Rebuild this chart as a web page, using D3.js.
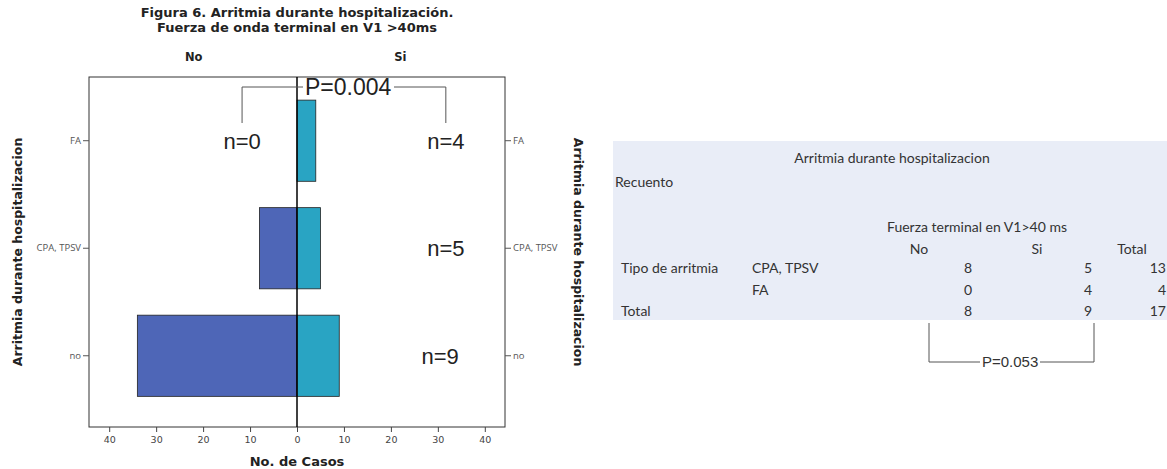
<!DOCTYPE html>
<html><head><meta charset="utf-8">
<script src="https://cdn.jsdelivr.net/npm/d3@7"></script>
<style>body{margin:0;background:#fff;} svg{display:block;}</style>
</head><body>
<svg id="c" width="1167" height="469"></svg>
<script>
// ---- data ----
const categories = ["FA", "CPA, TPSV", "no"];
const noValues = [0, 8, 34];
const siValues = [4, 5, 9];
const xTicks = [-40, -30, -20, -10, 0, 10, 20, 30, 40];
const nLabels = ["n=4", "n=5", "n=9"];
const nLabelLeft = "n=0";
const pChart = "P=0.004";
const pTable = "P=0.053";
const tableColHeads = ["No", "Si", "Total"];
const tableRowGroups = ["Tipo de arritmia", "", "Total"];
const tableRowLabels = ["CPA, TPSV", "FA", ""];
const tableNo = [8, 0, 8];
const tableSi = [5, 4, 9];
const tableTotal = [13, 4, 17];

const svg = d3.select("#c");
const L = 89, R = 505, T = 77, B = 427;
const x = d3.scaleLinear().domain([-44.3, 44.3]).range([L, R]);
const y = d3.scaleBand().domain(categories).range([T, B])
  .paddingInner(0.245).paddingOuter(0.25).align(0.43);

// titles
const sans = "'DejaVu Sans', Verdana, sans-serif";
svg.append("text").attr("x", 297).attr("y", 17).attr("text-anchor", "middle")
  .attr("font-family", sans).attr("font-weight", "bold").attr("font-size", 13).attr("fill", "#222")
  .text("Figura 6. Arritmia durante hospitalización.");
svg.append("text").attr("x", 297).attr("y", 32).attr("text-anchor", "middle")
  .attr("font-family", sans).attr("font-weight", "bold").attr("font-size", 13).attr("fill", "#222")
  .text("Fuerza de onda terminal en V1 >40ms");
svg.append("text").attr("x", x(-22)).attr("y", 61).attr("text-anchor", "middle")
  .attr("font-family", sans).attr("font-weight", "bold").attr("font-size", 11.5).attr("fill", "#222").text("No");
svg.append("text").attr("x", x(22)).attr("y", 61).attr("text-anchor", "middle")
  .attr("font-family", sans).attr("font-weight", "bold").attr("font-size", 11.5).attr("fill", "#222").text("Si");

// bars
const g = svg.append("g");
g.selectAll("rect.no").data(categories).join("rect").attr("class", "no")
  .attr("x", (d, i) => x(-noValues[i])).attr("width", (d, i) => x(0) - x(-noValues[i]))
  .attr("y", d => y(d)).attr("height", y.bandwidth())
  .attr("fill", "#4e66b7").attr("stroke", "#222").attr("stroke-width", 0.8)
  .attr("display", (d, i) => noValues[i] > 0 ? null : "none");
g.selectAll("rect.si").data(categories).join("rect").attr("class", "si")
  .attr("x", x(0)).attr("width", (d, i) => x(siValues[i]) - x(0))
  .attr("y", d => y(d)).attr("height", y.bandwidth())
  .attr("fill", "#29a4c3").attr("stroke", "#222").attr("stroke-width", 0.8);

// frame
svg.append("rect").attr("x", L).attr("y", T).attr("width", R - L).attr("height", B - T)
  .attr("fill", "none").attr("stroke", "#333").attr("stroke-width", 1);
svg.append("line").attr("x1", x(0)).attr("x2", x(0)).attr("y1", T).attr("y2", B)
  .attr("stroke", "#000").attr("stroke-width", 1.5);

// x axis
const xa = svg.append("g").attr("transform", `translate(0,${B})`)
  .call(d3.axisBottom(x).tickValues(xTicks).tickFormat(d => Math.abs(d)).tickSize(5).tickPadding(4));
xa.select(".domain").remove();
xa.selectAll("line").attr("stroke", "#444");
xa.selectAll("text").attr("font-family", sans).attr("font-size", 9.5).attr("fill", "#444");
svg.append("text").attr("x", 297).attr("y", 466).attr("text-anchor", "middle")
  .attr("font-family", sans).attr("font-weight", "bold").attr("font-size", 13).attr("fill", "#222")
  .text("No. de Casos");

// y axes
const ya = svg.append("g").attr("transform", `translate(${L},0)`)
  .call(d3.axisLeft(y).tickSize(6).tickPadding(2));
ya.select(".domain").remove();
const yb = svg.append("g").attr("transform", `translate(${R},0)`)
  .call(d3.axisRight(y).tickSize(6).tickPadding(2));
yb.select(".domain").remove();
[ya, yb].forEach(a => {
  a.selectAll("line").attr("stroke", "#555");
  a.selectAll("text").attr("font-family", "'Open Sans', sans-serif").attr("font-size", 9.5).attr("fill", "#555");
});
svg.append("text").attr("transform", `translate(22,${(T + B) / 2}) rotate(-90)`).attr("text-anchor", "middle")
  .attr("font-family", sans).attr("font-weight", "bold").attr("font-size", 12.5).attr("fill", "#222")
  .text("Arritmia durante hospitalizacion");
svg.append("text").attr("transform", `translate(574,${(T + B) / 2}) rotate(90)`).attr("text-anchor", "middle")
  .attr("font-family", sans).attr("font-weight", "bold").attr("font-size", 12.5).attr("fill", "#222")
  .text("Arritmia durante hospitalizacion");

// n labels
const arial = "'Liberation Sans', Arial, sans-serif";
const nX = [31.7, 31.7, 30.5];
svg.selectAll("text.nl").data(categories).join("text").attr("class", "nl")
  .attr("x", (d, i) => x(nX[i])).attr("y", d => y(d) + y.bandwidth() / 2 + 8)
  .attr("text-anchor", "middle").attr("font-family", arial).attr("font-size", 22).attr("fill", "#222")
  .text((d, i) => nLabels[i]);
svg.append("text").attr("x", x(-11.7)).attr("y", y("FA") + y.bandwidth() / 2 + 8)
  .attr("text-anchor", "middle").attr("font-family", arial).attr("font-size", 22).attr("fill", "#222")
  .text(nLabelLeft);

// P=0.004 bracket
const bx1 = x(-11.7), bx2 = x(31.7), by = 87, by2 = 123;
const br = svg.append("g").attr("stroke", "#555").attr("stroke-width", 1).attr("fill", "none");
br.append("path").attr("d", `M${bx1},${by2}V${by}H${303}`);
br.append("path").attr("d", `M${394},${by}H${bx2}V${by2}`);
svg.append("text").attr("x", 305).attr("y", by + 8).attr("font-family", arial).attr("font-size", 23)
  .attr("fill", "#222").text(pChart);

// table
const tf = "Lato, 'Open Sans', sans-serif";
svg.append("rect").attr("x", 613).attr("y", 141).attr("width", 554).attr("height", 179).attr("fill", "#e9edf7");
const tt = (t, xx, yy, anchor) => svg.append("text").attr("x", xx).attr("y", yy)
  .attr("text-anchor", anchor || "start").attr("font-family", tf).attr("font-size", 14)
  .attr("fill", "#333").text(t);
tt("Arritmia durante hospitalizacion", 892, 163, "middle");
tt("Recuento", 615, 187);
tt("Fuerza terminal en V1>40 ms", 887, 232);
const colX = [919, 1037, 1132];
tableColHeads.forEach((h, i) => tt(h, colX[i], 254, "middle"));
const rowY = [273, 295, 316];
const valX = [972, 1092, 1166];
rowY.forEach((ry, i) => {
  if (tableRowGroups[i]) tt(tableRowGroups[i], 621, ry);
  if (tableRowLabels[i]) tt(tableRowLabels[i], 752, ry);
  tt(tableNo[i], valX[0], ry, "end");
  tt(tableSi[i], valX[1], ry, "end");
  tt(tableTotal[i], valX[2], ry, "end");
});
// P=0.053 bracket
const pb = svg.append("g").attr("stroke", "#555").attr("stroke-width", 1).attr("fill", "none");
pb.append("path").attr("d", `M929,323V362H980`);
pb.append("path").attr("d", `M1040,362H1094V323`);
svg.append("text").attr("x", 982).attr("y", 367).attr("font-family", arial).attr("font-size", 15)
  .attr("fill", "#333").text(pTable);
</script>
</body></html>
